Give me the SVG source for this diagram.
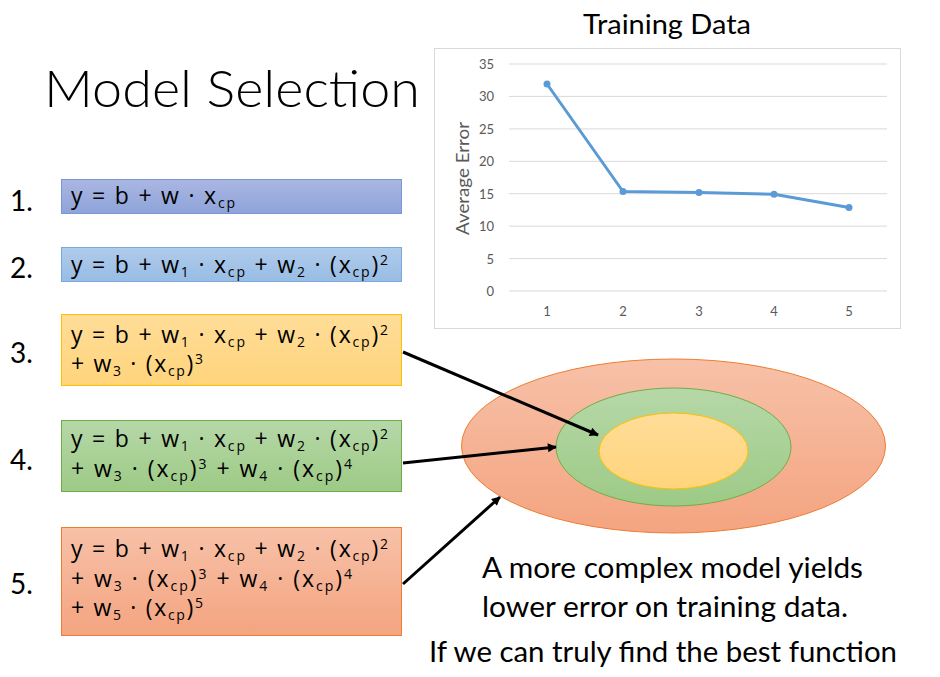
<svg xmlns="http://www.w3.org/2000/svg" width="940" height="677" viewBox="0 0 940 677">
<defs>
<style>
text{font-family:Lato,"Open Sans","Liberation Sans",sans-serif;white-space:pre}
.num{font-size:28px;fill:#000}
.f{font-family:"Open Sans",Lato,"Liberation Sans",sans-serif;font-size:23px;fill:#000}
.s{font-size:14px}
.ax{font-size:13px;fill:#595959}
.grid{stroke:#d9d9d9;stroke-width:1}
.big{font-size:28px;fill:#000}
.conn{stroke:#000;stroke-width:3;fill:none;marker-end:url(#ah)}
</style>
<linearGradient id="g1" x1="0" y1="0" x2="0" y2="1"><stop offset="0" stop-color="#aab6e2"/><stop offset="1" stop-color="#8ea4d9"/></linearGradient>
<linearGradient id="g2" x1="0" y1="0" x2="0" y2="1"><stop offset="0" stop-color="#b0cbeb"/><stop offset="1" stop-color="#98bce4"/></linearGradient>
<linearGradient id="g3" x1="0" y1="0" x2="0" y2="1"><stop offset="0" stop-color="#ffdd98"/><stop offset="1" stop-color="#ffd47c"/></linearGradient>
<linearGradient id="g4" x1="0" y1="0" x2="0" y2="1"><stop offset="0" stop-color="#b6d8a8"/><stop offset="1" stop-color="#9dca86"/></linearGradient>
<linearGradient id="g5" x1="0" y1="0" x2="0" y2="1"><stop offset="0" stop-color="#f7c1a8"/><stop offset="1" stop-color="#f4a480"/></linearGradient>
<marker id="ah" viewBox="0 0 10 10" refX="9" refY="5" markerWidth="13" markerHeight="9" markerUnits="userSpaceOnUse" orient="auto"><path d="M0,0 L10,5 L0,10 z" fill="#000"/></marker>
</defs>
<rect width="940" height="677" fill="#fff"/>

<g id="title"><text x="44" y="107" font-size="52" font-weight="300" textLength="376" lengthAdjust="spacingAndGlyphs">Model Selection</text></g>

<g id="chart">
<text x="583" y="34" font-size="26" textLength="168" lengthAdjust="spacingAndGlyphs">Training Data</text>
<rect x="434.5" y="48.5" width="466" height="280" fill="#fff" stroke="#d9d9d9"/>
<g class="grid">
<line x1="509" y1="64" x2="887" y2="64"/>
<line x1="509" y1="96.4" x2="887" y2="96.4"/>
<line x1="509" y1="128.9" x2="887" y2="128.9"/>
<line x1="509" y1="161.3" x2="887" y2="161.3"/>
<line x1="509" y1="193.7" x2="887" y2="193.7"/>
<line x1="509" y1="226.1" x2="887" y2="226.1"/>
<line x1="509" y1="258.6" x2="887" y2="258.6"/>
<line x1="509" y1="291" x2="887" y2="291"/>
</g>
<g class="ax" text-anchor="end">
<text x="494" y="68.5">35</text>
<text x="494" y="101">30</text>
<text x="494" y="133.5">25</text>
<text x="494" y="166">20</text>
<text x="494" y="198.5">15</text>
<text x="494" y="230.5">10</text>
<text x="494" y="263.5">5</text>
<text x="494" y="295.5">0</text>
</g>
<g class="ax" text-anchor="middle">
<text x="547" y="316">1</text>
<text x="623" y="316">2</text>
<text x="699" y="316">3</text>
<text x="774" y="316">4</text>
<text x="849" y="316">5</text>
</g>
<text transform="translate(469,178.5) rotate(-90)" text-anchor="middle" font-size="18" fill="#595959" textLength="113" lengthAdjust="spacingAndGlyphs">Average Error</text>
<polyline points="547,84 623,191.5 699,192.5 774,194.3 849,207.5" fill="none" stroke="#5b9bd5" stroke-width="3" stroke-linejoin="round"/>
<g fill="#5b9bd5">
<circle cx="547" cy="84" r="3.5"/><circle cx="623" cy="191.5" r="3.5"/><circle cx="699" cy="192.5" r="3.5"/><circle cx="774" cy="194.3" r="3.5"/><circle cx="849" cy="207.5" r="3.5"/>
</g>
</g>

<g id="model1">
<text class="num" x="10" y="211">1.</text>
<rect x="61.5" y="179.5" width="340" height="34" fill="url(#g1)" stroke="#7b96d4"/>
<text class="f" x="71" y="204" textLength="164">y = b + w · x<tspan class="s" dy="4">cp</tspan></text>
</g>

<g id="model2">
<text class="num" x="10" y="278">2.</text>
<rect x="61.5" y="247.5" width="340" height="34" fill="url(#g2)" stroke="#7aa8dc"/>
<text class="f" x="71" y="273" textLength="317">y = b + w<tspan class="s" dy="4">1</tspan><tspan dy="-4"> · x</tspan><tspan class="s" dy="4">cp</tspan><tspan dy="-4"> + w</tspan><tspan class="s" dy="4">2</tspan><tspan dy="-4"> · (x</tspan><tspan class="s" dy="4">cp</tspan><tspan dy="-4">)</tspan><tspan class="s" dy="-8">2</tspan></text>
</g>

<g id="model3">
<text class="num" x="10" y="363">3.</text>
<rect x="61.5" y="314.5" width="340" height="71" fill="url(#g3)" stroke="#ffc000"/>
<text class="f" x="71" y="343" textLength="317">y = b + w<tspan class="s" dy="4">1</tspan><tspan dy="-4"> · x</tspan><tspan class="s" dy="4">cp</tspan><tspan dy="-4"> + w</tspan><tspan class="s" dy="4">2</tspan><tspan dy="-4"> · (x</tspan><tspan class="s" dy="4">cp</tspan><tspan dy="-4">)</tspan><tspan class="s" dy="-8">2</tspan></text>
<text class="f" x="71" y="372" textLength="132">+ w<tspan class="s" dy="4">3</tspan><tspan dy="-4"> · (x</tspan><tspan class="s" dy="4">cp</tspan><tspan dy="-4">)</tspan><tspan class="s" dy="-8">3</tspan></text>
</g>

<g id="model4">
<text class="num" x="10" y="470">4.</text>
<rect x="61.5" y="420.5" width="340" height="71" fill="url(#g4)" stroke="#70ad47"/>
<text class="f" x="71" y="447" textLength="317">y = b + w<tspan class="s" dy="4">1</tspan><tspan dy="-4"> · x</tspan><tspan class="s" dy="4">cp</tspan><tspan dy="-4"> + w</tspan><tspan class="s" dy="4">2</tspan><tspan dy="-4"> · (x</tspan><tspan class="s" dy="4">cp</tspan><tspan dy="-4">)</tspan><tspan class="s" dy="-8">2</tspan></text>
<text class="f" x="71" y="477" textLength="281">+ w<tspan class="s" dy="4">3</tspan><tspan dy="-4"> · (x</tspan><tspan class="s" dy="4">cp</tspan><tspan dy="-4">)</tspan><tspan class="s" dy="-8">3</tspan><tspan dy="8"> + w</tspan><tspan class="s" dy="4">4</tspan><tspan dy="-4"> · (x</tspan><tspan class="s" dy="4">cp</tspan><tspan dy="-4">)</tspan><tspan class="s" dy="-8">4</tspan></text>
</g>

<g id="model5">
<text class="num" x="10" y="594">5.</text>
<rect x="61.5" y="527.5" width="340" height="108" fill="url(#g5)" stroke="#ed7d31"/>
<text class="f" x="71" y="557" textLength="317">y = b + w<tspan class="s" dy="4">1</tspan><tspan dy="-4"> · x</tspan><tspan class="s" dy="4">cp</tspan><tspan dy="-4"> + w</tspan><tspan class="s" dy="4">2</tspan><tspan dy="-4"> · (x</tspan><tspan class="s" dy="4">cp</tspan><tspan dy="-4">)</tspan><tspan class="s" dy="-8">2</tspan></text>
<text class="f" x="71" y="587" textLength="281">+ w<tspan class="s" dy="4">3</tspan><tspan dy="-4"> · (x</tspan><tspan class="s" dy="4">cp</tspan><tspan dy="-4">)</tspan><tspan class="s" dy="-8">3</tspan><tspan dy="8"> + w</tspan><tspan class="s" dy="4">4</tspan><tspan dy="-4"> · (x</tspan><tspan class="s" dy="4">cp</tspan><tspan dy="-4">)</tspan><tspan class="s" dy="-8">4</tspan></text>
<text class="f" x="71" y="616" textLength="132">+ w<tspan class="s" dy="4">5</tspan><tspan dy="-4"> · (x</tspan><tspan class="s" dy="4">cp</tspan><tspan dy="-4">)</tspan><tspan class="s" dy="-8">5</tspan></text>
</g>

<g id="model-space">
<ellipse cx="673.5" cy="446" rx="212" ry="87" fill="url(#g5)" stroke="#ed7d31"/>
<ellipse cx="673.5" cy="447" rx="117.5" ry="59" fill="url(#g4)" stroke="#70ad47"/>
<ellipse cx="673.5" cy="451" rx="74.5" ry="38" fill="url(#g3)" stroke="#ffc000"/>
</g>

<g id="connectors">
<line class="conn" x1="403" y1="352" x2="598" y2="435"/>
<line class="conn" x1="403" y1="463" x2="556" y2="447"/>
<line class="conn" x1="403" y1="584" x2="500" y2="497"/>
</g>

<g id="caption">
<text class="big" x="482" y="578" textLength="381" lengthAdjust="spacingAndGlyphs">A more complex model yields</text>
<text class="big" x="482" y="617" textLength="366" lengthAdjust="spacingAndGlyphs">lower error on training data.</text>
<text class="big" x="429" y="662" textLength="468" lengthAdjust="spacingAndGlyphs">If we can truly find the best function</text>
</g>
</svg>
